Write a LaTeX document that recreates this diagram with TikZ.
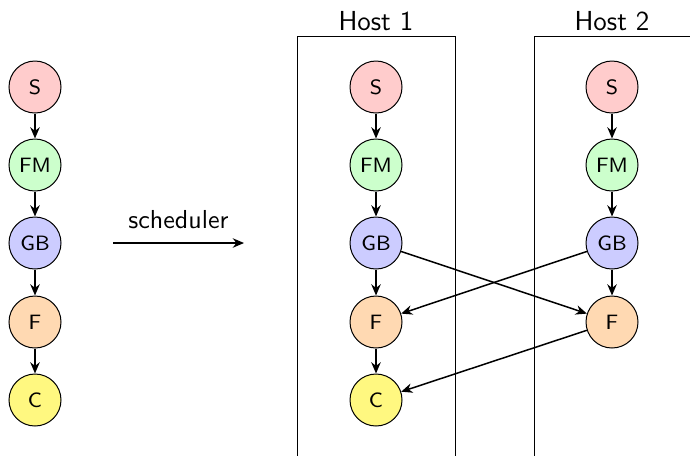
\documentclass[tikz,border=0pt]{standalone}
\usetikzlibrary{arrows.meta}
\begin{document}
\begin{tikzpicture}[x=0.4pt,y=-0.4pt,font=\sffamily,
  task/.style={circle,draw,minimum size=20.8pt,inner sep=0pt,font=\sffamily\fontsize{8.3}{10}\selectfont},
  cS/.style={task,fill=red!20},
  cFM/.style={task,fill=green!20},
  cGB/.style={task,fill=blue!20},
  cF/.style={task,fill=orange!30},
  cC/.style={task,fill=yellow!50},
  edge/.style={-{Stealth[length=4.5pt,width=3.8pt]},semithick},
  hostline/.style={draw,thin},
  hostlabel/.style={anchor=south,inner sep=2pt,font=\sffamily\fontsize{11}{13}\selectfont}]
\useasboundingbox (0,0) rectangle (690,455);
% left chain
\node[cS] (s0) at (35,87) {S};
\node[cFM] (fm0) at (35,165) {FM};
\node[cGB] (gb0) at (35,243) {GB};
\node[cF] (f0) at (35,322) {F};
\node[cC] (c0) at (35,400) {C};
\draw[edge] (s0) -- (fm0);
\draw[edge] (fm0) -- (gb0);
\draw[edge] (gb0) -- (f0);
\draw[edge] (f0) -- (c0);
% scheduler
\coordinate (sa) at (113,243);
\coordinate (sb) at (244,243);
\draw[edge] (sa) -- node[above=2pt,font=\sffamily\fontsize{10.4}{12}\selectfont] {scheduler} (sb);
% host boxes
\coordinate (h1a) at (297,460);
\coordinate (h1b) at (297,36);
\coordinate (h1c) at (455,36);
\coordinate (h1d) at (455,460);
\draw[hostline] (h1a) -- (h1b) -- (h1c) -- (h1d);
\node[hostlabel] (host1) at (376,36) {Host 1};
\coordinate (h2a) at (534,460);
\coordinate (h2b) at (534,36);
\coordinate (h2c) at (700,36);
\draw[hostline] (h2a) -- (h2b) -- (h2c);
\node[hostlabel] (host2) at (612,36) {Host 2};
% host 1 chain
\node[cS] (s1) at (376,87) {S};
\node[cFM] (fm1) at (376,165) {FM};
\node[cGB] (gb1) at (376,243) {GB};
\node[cF] (f1) at (376,322) {F};
\node[cC] (c1) at (376,400) {C};
\draw[edge] (s1) -- (fm1);
\draw[edge] (fm1) -- (gb1);
\draw[edge] (gb1) -- (f1);
\draw[edge] (f1) -- (c1);
% host 2 chain
\node[cS] (s2) at (612,87) {S};
\node[cFM] (fm2) at (612,165) {FM};
\node[cGB] (gb2) at (612,243) {GB};
\node[cF] (f2) at (612,322) {F};
\draw[edge] (s2) -- (fm2);
\draw[edge] (fm2) -- (gb2);
\draw[edge] (gb2) -- (f2);
% cross edges
\draw[edge] (gb1) -- (f2);
\draw[edge] (gb2) -- (f1);
\draw[edge] (f2) -- (c1);
\end{tikzpicture}
\end{document}
